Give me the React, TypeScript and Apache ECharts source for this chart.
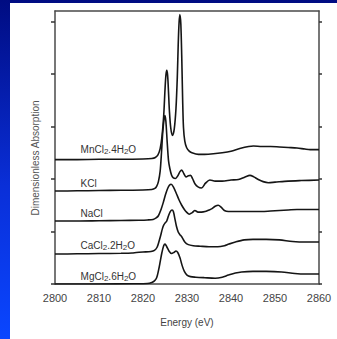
import React, { useEffect, useRef } from "react";
import * as echarts from "echarts";

const xTicks = [2800, 2810, 2820, 2830, 2840, 2850, 2860];
const yTickValues = [0, 1, 2, 3, 4, 5];

const mnCl2: number[][] = [
  [2800, 2.37], [2805, 2.37], [2810, 2.375], [2815, 2.375], [2820, 2.38], [2822, 2.39], [2822.8, 2.41],
  [2823.4, 2.46], [2823.9, 2.58], [2824.3, 2.8], [2824.7, 3.2], [2825.0, 3.7], [2825.2, 3.97], [2825.4, 4.07],
  [2825.6, 3.97], [2825.8, 3.65], [2826.0, 3.3], [2826.3, 2.98], [2826.7, 2.83], [2827.1, 2.95], [2827.5, 3.35],
  [2827.8, 3.95], [2828.0, 4.55], [2828.2, 4.98], [2828.4, 5.13], [2828.6, 4.95], [2828.8, 4.35], [2829.0, 3.55],
  [2829.2, 2.98], [2829.5, 2.72], [2829.9, 2.6], [2830.5, 2.53], [2831.1, 2.5], [2832.6, 2.47], [2834, 2.47],
  [2836, 2.48], [2838, 2.5], [2840, 2.53], [2842, 2.58], [2844, 2.62], [2845.1, 2.63], [2847, 2.62],
  [2849, 2.62], [2851, 2.61], [2853, 2.6], [2855, 2.59], [2856.8, 2.57], [2858, 2.56], [2860, 2.56],
];

const kCl: number[][] = [
  [2800, 1.77], [2805, 1.775], [2810, 1.78], [2815, 1.785], [2820, 1.79], [2822, 1.8], [2822.7, 1.82],
  [2823.1, 1.86], [2823.5, 1.95], [2823.9, 2.15], [2824.2, 2.5], [2824.5, 2.9], [2824.8, 3.15], [2825.0, 3.21],
  [2825.2, 3.1], [2825.5, 2.7], [2825.8, 2.35], [2826.1, 2.2], [2826.5, 2.07], [2826.9, 2.02], [2827.4, 2.01],
  [2827.9, 2.06], [2828.4, 2.14], [2828.8, 2.17], [2829.3, 2.1], [2829.8, 2.04], [2830.3, 2.06], [2830.8, 2.07],
  [2831.3, 2.0], [2831.8, 1.91], [2832.5, 1.85], [2833.3, 1.83], [2834.2, 1.92], [2835.2, 1.98], [2836.4, 1.96],
  [2838, 1.96], [2840, 1.98], [2841.7, 1.99], [2843.2, 2.04], [2844.3, 2.07], [2845.2, 2.04], [2846.2, 1.99],
  [2847.3, 1.95], [2848.5, 1.93], [2850, 1.94], [2853, 1.96], [2856, 1.97], [2860, 1.98],
];

const naCl: number[][] = [
  [2800, 1.2], [2805, 1.2], [2810, 1.205], [2815, 1.21], [2819, 1.215], [2821, 1.22], [2822.3, 1.23],
  [2823.0, 1.26], [2823.5, 1.3], [2824.1, 1.42], [2824.6, 1.55], [2825.1, 1.7], [2825.6, 1.82], [2826.0, 1.88],
  [2826.4, 1.9], [2826.9, 1.85], [2827.6, 1.72], [2828.2, 1.6], [2828.8, 1.5], [2829.4, 1.42], [2829.9, 1.37],
  [2830.5, 1.33], [2831.2, 1.36], [2831.8, 1.4], [2832.5, 1.37], [2833.3, 1.37], [2834.1, 1.38], [2835.0, 1.41],
  [2835.6, 1.43], [2836.4, 1.48], [2837.1, 1.5], [2837.8, 1.46], [2838.5, 1.4], [2839.4, 1.38], [2841, 1.38],
  [2843, 1.38], [2845, 1.38], [2847, 1.38], [2849, 1.39], [2851, 1.4], [2853, 1.41], [2855, 1.42],
  [2857, 1.42], [2860, 1.42],
];

const caCl2: number[][] = [
  [2800, 0.57], [2805, 0.575], [2810, 0.58], [2815, 0.585], [2817.5, 0.59], [2818.5, 0.6], [2820, 0.61],
  [2821.8, 0.62], [2822.6, 0.64], [2823.2, 0.7], [2823.6, 0.8], [2824.0, 0.92], [2824.4, 1.05], [2824.7, 1.12],
  [2825.0, 1.16], [2825.4, 1.2], [2825.8, 1.3], [2826.2, 1.38], [2826.6, 1.41], [2826.9, 1.38], [2827.3, 1.22],
  [2827.6, 1.1], [2828.0, 0.99], [2828.4, 0.94], [2828.8, 0.9], [2829.5, 0.8], [2830.3, 0.75], [2831.4, 0.73],
  [2833, 0.72], [2835, 0.71], [2837, 0.71], [2838.5, 0.73], [2839.5, 0.76], [2841, 0.8], [2843, 0.84],
  [2845, 0.85], [2848, 0.85], [2851, 0.84], [2854, 0.81], [2857, 0.8], [2860, 0.8],
];

const mgCl2: number[][] = [
  [2800, 0.0], [2810, 0.0], [2818, 0.005], [2821, 0.01], [2822, 0.03], [2822.6, 0.06], [2823.1, 0.12],
  [2823.5, 0.25], [2823.9, 0.42], [2824.3, 0.6], [2824.7, 0.73], [2825.0, 0.76], [2825.4, 0.71], [2825.9, 0.63],
  [2826.5, 0.58], [2827.0, 0.6], [2827.5, 0.63], [2827.9, 0.6], [2828.4, 0.5], [2828.9, 0.35], [2829.4, 0.24],
  [2830.0, 0.17], [2830.8, 0.14], [2832, 0.13], [2834, 0.12], [2836.4, 0.11], [2838, 0.13], [2839.4, 0.17],
  [2841, 0.21], [2842.4, 0.23], [2845, 0.24], [2848, 0.24], [2851.5, 0.23], [2854.5, 0.2], [2857, 0.19],
  [2860, 0.19],
];

const labelTexts = [
  "{a|MnCl}{s|2}{a|.4H}{s|2}{a|O}",
  "{a|KCl}",
  "{a|NaCl}",
  "{a|CaCl}{s|2}{a|.2H}{s|2}{a|O}",
  "{a|MgCl}{s|2}{a|.6H}{s|2}{a|O}",
];
const labelCoords: number[][] = [
  [2805.7, 2.57],
  [2805.7, 1.92],
  [2805.7, 1.35],
  [2805.7, 0.74],
  [2805.7, 0.15],
];
const seriesNames = ["MnCl2.4H2O", "KCl", "NaCl", "CaCl2.2H2O", "MgCl2.6H2O"];
const seriesData = [mnCl2, kCl, naCl, caCl2, mgCl2];

const FONT = "'Liberation Sans', Arial, sans-serif";

export default function App() {
  const ref = useRef<HTMLDivElement>(null);
  useEffect(() => {
    if (!ref.current) return;
    const chart = echarts.init(ref.current, undefined, { renderer: "svg" });
    const axisLineStyle = { color: "#4a4a4a", width: 1.5 };
    chart.setOption({
      animation: false,
      backgroundColor: "transparent",
      grid: { left: 55, top: 11, width: 264, height: 273, containLabel: false },
      xAxis: [
        {
          type: "value",
          min: 2800,
          max: 2860,
          interval: 10,
          position: "bottom",
          axisLine: { show: true, onZero: false, lineStyle: axisLineStyle },
          axisTick: { show: false },
          splitLine: { show: false },
          axisLabel: {
            fontSize: 11,
            color: "#444",
            margin: 8,
            fontFamily: FONT,
            customValues: xTicks,
            formatter: (v: number) => String(v),
          },
          name: "Energy (eV)",
          nameLocation: "middle",
          nameGap: 33,
          nameTextStyle: { fontSize: 10, color: "#444", fontFamily: FONT },
        },
        {
          type: "value",
          min: 2800,
          max: 2860,
          position: "top",
          axisLine: { show: true, onZero: false, lineStyle: axisLineStyle },
          axisTick: { show: false },
          axisLabel: { show: false },
          splitLine: { show: false },
        },
      ],
      yAxis: [
        {
          type: "value",
          min: 0,
          max: 5.2,
          interval: 1,
          position: "left",
          axisLine: { show: true, onZero: false, lineStyle: axisLineStyle },
          axisTick: { show: true, inside: false, length: 4, customValues: yTickValues, lineStyle: { color: "#333", width: 1.5 } },
          axisLabel: { show: false },
          splitLine: { show: false },
        },
        {
          type: "value",
          min: 0,
          max: 5.2,
          interval: 1,
          position: "right",
          axisLine: { show: true, onZero: false, lineStyle: axisLineStyle },
          axisTick: { show: true, inside: false, length: 3, customValues: yTickValues, lineStyle: { color: "#333", width: 1.5 } },
          axisLabel: { show: false },
          splitLine: { show: false },
        },
      ],
      graphic: [
        {
          type: "text",
          x: 35,
          y: 158,
          rotation: Math.PI / 2,
          style: {
            text: "Dimensionless Absorption",
            fontSize: 10,
            fill: "#555",
            fontFamily: FONT,
            align: "center",
            verticalAlign: "middle",
          },
        },
      ],
      series: seriesData.map((d, i) => ({
        type: "line",
        name: seriesNames[i],
        data: d,
        xAxisIndex: 0,
        yAxisIndex: 0,
        showSymbol: false,
        symbol: "none",
        smooth: 0.3,
        lineStyle: { color: "#151515", width: 1.6 },
        silent: true,
        markPoint: {
          symbol: "circle",
          symbolSize: 1,
          itemStyle: { color: "rgba(0,0,0,0)" },
          data: [
            {
              coord: labelCoords[i],
              label: {
                show: true,
                position: "right",
                distance: 0,
                formatter: labelTexts[i],
                rich: {
                  a: { fontSize: 10, color: "#333", fontFamily: FONT, lineHeight: 12 },
                  s: { fontSize: 8, color: "#333", fontFamily: FONT, lineHeight: 7, verticalAlign: "bottom" },
                },
              },
            },
          ],
        },
      })),
    });
    return () => chart.dispose();
  }, []);

  return (
    <div
      style={{
        position: "fixed",
        left: 0,
        top: 0,
        width: 337,
        height: 339,
        background: "linear-gradient(to bottom, #000c82 0%, #0a2fd8 55%, #0a46ff 100%)",
      }}
    >
      <div style={{ position: "absolute", left: 10, top: 3, right: 0, bottom: 0, background: "#fff" }} />
      <div ref={ref} style={{ position: "absolute", left: 0, top: 0, width: 337, height: 339 }} />
    </div>
  );
}
